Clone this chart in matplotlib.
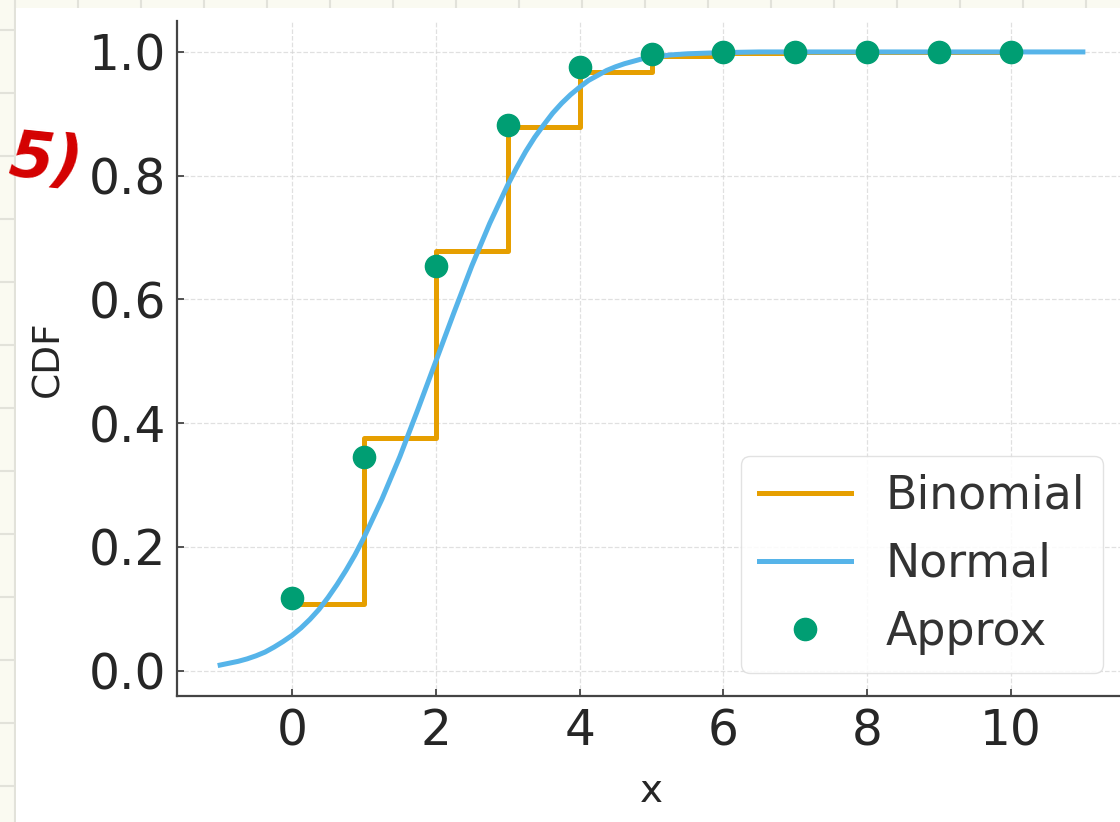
import numpy as np
import matplotlib
matplotlib.use("Agg")
import matplotlib.pyplot as plt
from matplotlib.patches import Rectangle

# values
k = [0, 1, 2, 3, 4, 5, 6, 7, 8, 9, 10]
binom_cdf = [0.107, 0.376, 0.678, 0.879, 0.967, 0.994, 0.999, 1.0, 1.0, 1.0, 1.0]
approx_cdf = [0.118, 0.346, 0.654, 0.882, 0.976, 0.997, 1.0, 1.0, 1.0, 1.0, 1.0]

normal_x = [-1.0, -0.875, -0.75, -0.625, -0.5, -0.375, -0.25, -0.125, 0.0, 0.125,
            0.25, 0.375, 0.5, 0.625, 0.75, 0.875, 1.0, 1.25, 1.5, 1.75,
            2.0, 2.25, 2.5, 2.75, 3.0, 3.125, 3.25, 3.375, 3.5, 3.625, 3.75, 3.875,
            4.0, 4.125, 4.25, 4.375, 4.5, 4.625, 4.75, 4.875, 5.0, 5.25, 5.5, 5.75,
            6.0, 6.5, 7.0, 8.0, 9.0, 10.0, 11.0]
normal_y = [0.009, 0.012, 0.015, 0.019, 0.024, 0.030, 0.038, 0.047, 0.057, 0.069,
            0.083, 0.099, 0.118, 0.139, 0.162, 0.187, 0.215, 0.277, 0.346, 0.422,
            0.500, 0.578, 0.654, 0.723, 0.785, 0.813, 0.839, 0.862, 0.882, 0.901, 0.917, 0.931,
            0.943, 0.954, 0.962, 0.970, 0.976, 0.981, 0.985, 0.989, 0.991, 0.995, 0.997, 0.998,
            0.999, 1.0, 1.0, 1.0, 1.0, 1.0, 1.0]

W, H = 1120, 822
fig = plt.figure(figsize=(W / 100, H / 100), dpi=100, facecolor="#fafaf1")

# notebook page behind the pasted chart
bg = fig.add_axes([0, 0, 1, 1])
bg.set_xlim(0, W)
bg.set_ylim(H, 0)
bg.axis("off")
for gx in range(15, W, 63):
    bg.axvline(gx, color="#e2e2da", lw=1.5, zorder=0)
for gy in range(30, H, 63):
    bg.axhline(gy, color="#e2e2da", lw=1.5, zorder=0)
bg.add_patch(Rectangle((16, 8), W, H, facecolor="white", edgecolor="none", zorder=1))
bg.text(46, 161, "5)", color="#d40000", fontsize=46, fontweight="bold",
        style="italic", ha="center", va="center", rotation=-6, zorder=2)

ax = fig.add_axes([177 / W, 1 - 696 / H, 949 / W, 675 / H])
ax.patch.set_alpha(0)

ax.step(k, binom_cdf, where="post", color="#E69F00", lw=3.6, label="Binomial", zorder=2)
ax.plot(normal_x, normal_y, color="#56B4E9", lw=3.6, label="Normal", zorder=3)
ax.plot(k, approx_cdf, "o", color="#009E73", ms=16, label="Approx", zorder=4)

ax.set_xlim(-1.6, 11.6)
ax.set_ylim(-0.041, 1.05)
ax.set_xticks([0, 2, 4, 6, 8, 10])
ax.set_yticks([0.0, 0.2, 0.4, 0.6, 0.8, 1.0])
ax.set_yticklabels(["0.0", "0.2", "0.4", "0.6", "0.8", "1.0"])

ax.grid(True, color="#d4d4d4", ls="--", lw=0.9, alpha=0.7, zorder=0)
for side in ["top", "right"]:
    ax.spines[side].set_visible(False)
for side in ["left", "bottom"]:
    ax.spines[side].set_color("#444444")
    ax.spines[side].set_linewidth(1.6)
ax.tick_params(direction="in", length=5, width=1.3, color="#444444",
               labelsize=35, labelcolor="#262626", pad=8)

ax.set_xlabel("x", fontsize=28, color="#262626", labelpad=12)
ax.set_ylabel("CDF", fontsize=27, color="#262626", labelpad=16)

ax.legend(loc="lower right", fontsize=33, labelspacing=0.5, handlelength=2.0,
          handletextpad=0.75, borderpad=0.4, framealpha=0.85, edgecolor="#dddddd",
          labelcolor="#333333")

fig.savefig("out.png", dpi=100, facecolor=fig.get_facecolor())
